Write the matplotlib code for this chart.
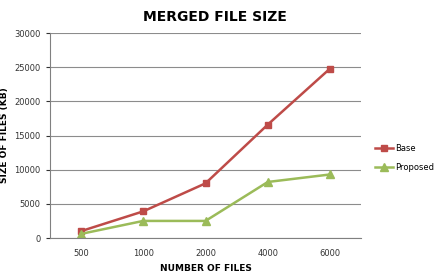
import matplotlib
matplotlib.use("Agg")
import matplotlib.pyplot as plt

# data
categories = ["500", "1000", "2000", "4000", "6000"]
base = [1000, 3900, 8000, 16600, 24800]
proposed = [600, 2500, 2500, 8200, 9300]

red = "#BE4B48"
green = "#9BBB59"

fig = plt.figure(figsize=(4.41, 2.80), dpi=100)
ax = fig.add_axes([0.113, 0.15, 0.706, 0.732])

x = list(range(len(categories)))
ax.plot(x, base, color=red, lw=1.8, marker="s", ms=5, label="Base")
ax.plot(x, proposed, color=green, lw=1.8, marker="^", ms=6, label="Proposed")

ax.set_xlim(-0.5, len(categories) - 0.5)
ax.set_ylim(0, 30000)
ax.set_yticks(range(0, 30001, 5000))
ax.set_xticks(x)
ax.set_xticklabels(categories)
ax.tick_params(axis="both", labelsize=6, colors="#333333", length=3, width=0.8)
ax.tick_params(axis="x", length=0, pad=8)
ax.grid(axis="y", color="#8c8c8c", lw=0.8)
ax.set_axisbelow(True)
for s in ["top", "right"]:
    ax.spines[s].set_visible(False)
ax.spines["left"].set_color("#808080")
ax.spines["bottom"].set_color("#808080")

ax.set_xlabel("NUMBER OF FILES", fontsize=6.5, fontweight="bold", labelpad=4)
ax.set_ylabel("SIZE OF FILES (KB)", fontsize=6.5, fontweight="bold", labelpad=4)
fig.text(0.488, 0.94, "MERGED FILE SIZE", ha="center", va="center",
         fontsize=10, fontweight="bold")

ax.legend(loc="center left", bbox_to_anchor=(1.02, 0.39), frameon=False,
          fontsize=6, handlelength=2.2, labelspacing=1.2, handletextpad=0.2)

fig.savefig("out.png", dpi=100)
